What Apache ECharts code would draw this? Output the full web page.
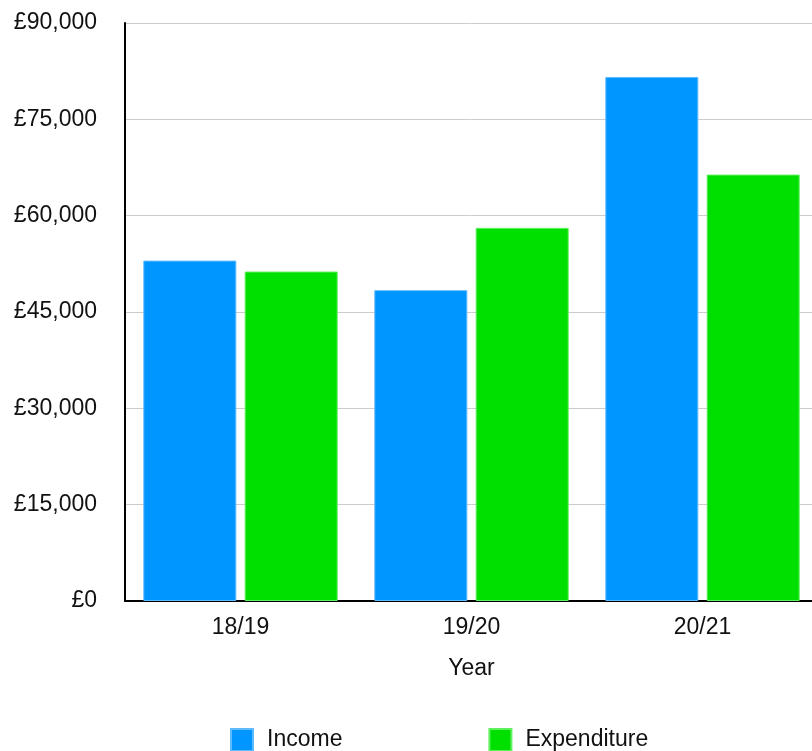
<!DOCTYPE html>
<html>
<head>
<meta charset="utf-8">
<script src="https://cdn.jsdelivr.net/npm/echarts@6/dist/echarts.min.js"></script>
<style>html,body{margin:0;padding:0;background:#fff;overflow:hidden;width:812px;height:751px;}#c{width:820px;height:751px;}</style>
</head>
<body>
<div id="c"></div>
<script>
const categories = ['18/19', '19/20', '20/21'];
const income = [53000, 48400, 81600];
const expenditure = [51300, 58100, 66400];
const yTicks = [0, 15000, 30000, 45000, 60000, 75000, 90000];

const chart = echarts.init(document.getElementById('c'));
const font = '"Liberation Sans", Arial, Helvetica, sans-serif';
chart.setOption({
  animation: false,
  textStyle: { fontFamily: font },
  grid: { left: 125, right: 2, top: 23, bottom: 150, containLabel: false },
  legend: {
    left: 230, top: 728, padding: 0,
    itemWidth: 22, itemHeight: 22, itemGap: 146,
    icon: 'rect',
    textStyle: { fontSize: 23, color: '#111', fontFamily: font, padding: [8, 0, 0, 9] },
    data: ['Income', 'Expenditure']
  },
  xAxis: {
    type: 'category',
    data: categories,
    name: 'Year',
    nameLocation: 'middle',
    nameGap: 56,
    nameTextStyle: { fontSize: 23, color: '#111', fontFamily: font },
    axisLine: { lineStyle: { color: '#000', width: 2 } },
    axisTick: { show: false },
    axisLabel: { fontSize: 23, color: '#111', margin: 15, fontFamily: font }
  },
  yAxis: {
    type: 'value',
    min: yTicks[0], max: yTicks[yTicks.length - 1], interval: 15000,
    axisLine: { show: true, lineStyle: { color: '#000', width: 2 } },
    axisTick: { show: false },
    splitLine: { lineStyle: { color: '#cccccc', width: 1 } },
    axisLabel: {
      fontSize: 23, color: '#111', margin: 28, fontFamily: font,
      formatter: v => '£' + v.toLocaleString('en-GB')
    }
  },
  series: [
    { name: 'Income', type: 'bar', data: income, barWidth: 93, barGap: '9%',
      itemStyle: { color: '#0096ff', borderColor: '#5fbaff', borderWidth: 1 } },
    { name: 'Expenditure', type: 'bar', data: expenditure, barWidth: 93, barGap: '9%',
      itemStyle: { color: '#00e000', borderColor: '#5ff05f', borderWidth: 1 } }
  ]
});
</script>
</body>
</html>
